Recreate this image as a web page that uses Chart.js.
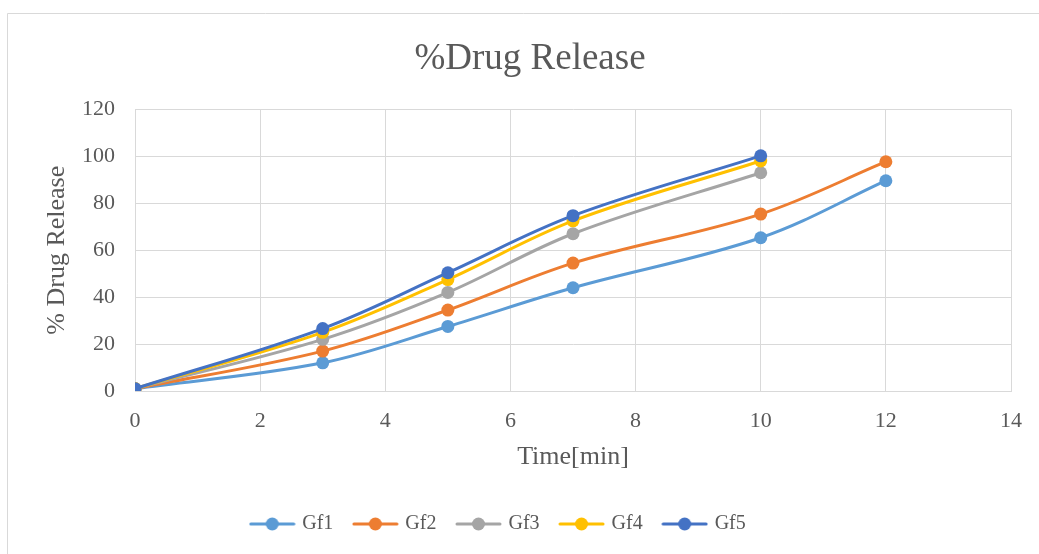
<!DOCTYPE html>
<html>
<head>
<meta charset="utf-8">
<script src="https://cdn.jsdelivr.net/npm/chart.js@4"></script>
<style>
    html, body {margin: 0; padding: 0; background: #fff;}
    #wrap {width: 1039px; height: 554px; position: relative;}
</style>
</head>
<body>
<div id="wrap"><canvas id="releaseChart"></canvas></div>
<script>
const timesLong = [0, 3, 5, 7, 10, 12],
      timesShort = [0, 3, 5, 7, 10],
      gf1 = [1, 12, 27.5, 44, 65.3, 89.6],
      gf2 = [1, 17, 34.5, 54.5, 75.4, 97.7],
      gf3 = [1, 22, 42, 67, 93],
      gf4 = [1, 25, 47.5, 72.5, 98],
      gf5 = [1, 26.6, 50.4, 74.7, 100.2],
      seriesNames = ['Gf1', 'Gf2', 'Gf3', 'Gf4', 'Gf5'],
      seriesColors = ['#5b9bd5', '#ed7d31', '#a5a5a5', '#ffc000', '#4472c4'];

const textColor = '#595959',
      gridColor = '#d9d9d9',
      serif = "'Liberation Serif', 'Times New Roman', serif";

function toPoints(xs, ys) {
    return xs.map((x, i) => ({x: x, y: ys[i]}));
}

// little line + dot used as legend marker
function legendMarker(color) {
    const c = document.createElement('canvas');
    c.width = 47; c.height = 14;
    const g = c.getContext('2d');
    g.strokeStyle = color;
    g.lineWidth = 3;
    g.lineCap = 'round';
    g.beginPath(); g.moveTo(2, 7); g.lineTo(45, 7); g.stroke();
    g.fillStyle = color;
    g.beginPath(); g.arc(23.5, 7, 6.5, 0, Math.PI * 2); g.fill();
    return c;
}

const seriesData = [
    toPoints(timesLong, gf1),
    toPoints(timesLong, gf2),
    toPoints(timesShort, gf3),
    toPoints(timesShort, gf4),
    toPoints(timesShort, gf5)
];

const datasets = seriesNames.map((name, i) => ({
    label: name,
    data: seriesData[i],
    borderColor: seriesColors[i],
    backgroundColor: seriesColors[i],
    borderWidth: 3,
    pointRadius: 6.5,
    pointHoverRadius: 6.5,
    pointBorderWidth: 0,
    tension: 0.35,
    fill: false,
    order: seriesNames.length - i
}));

const frame = {
    id: 'frame',
    beforeDraw(chart) {
        const c = chart.ctx;
        c.save();
        c.fillStyle = '#fff';
        c.fillRect(0, 0, chart.width, chart.height);
        c.strokeStyle = gridColor;
        c.lineWidth = 1;
        c.beginPath();
        c.moveTo(7.5, chart.height);
        c.lineTo(7.5, 13.5);
        c.lineTo(chart.width, 13.5);
        c.stroke();
        c.restore();
    },
    afterLayout(chart) {
        // legend a bit left, title a bit right
        chart.legend.left -= 7;
        chart.legend.right -= 7;
        chart.titleBlock.left += 24;
        chart.titleBlock.right += 24;
    }
};

new Chart(document.getElementById('releaseChart'), {
    type: 'line',
    data: {datasets: datasets},
    plugins: [frame],
    options: {
        responsive: true,
        maintainAspectRatio: false,
        animation: false,
        layout: {padding: {left: 0, right: 27, top: 0, bottom: 10}},
        plugins: {
            title: {
                display: true,
                text: '%Drug Release',
                color: textColor,
                font: {family: serif, size: 37, weight: 'normal'},
                padding: {top: 37, bottom: 28}
            },
            legend: {
                position: 'bottom',
                labels: {
                    color: textColor,
                    font: {family: serif, size: 20},
                    usePointStyle: true,
                    pointStyleWidth: 40,
                    padding: 22,
                    generateLabels: function(chart) {
                        return chart.data.datasets.map((ds, i) => ({
                            text: ds.label,
                            fillStyle: ds.borderColor,
                            strokeStyle: ds.borderColor,
                            fontColor: textColor,
                            lineWidth: 0,
                            pointStyle: legendMarker(ds.borderColor),
                            hidden: !chart.isDatasetVisible(i),
                            datasetIndex: i
                        }));
                    }
                }
            },
            tooltip: {enabled: false}
        },
        scales: {
            x: {
                type: 'linear',
                min: 0,
                max: 14,
                afterFit: function(scale) { scale.height = 101; },
                ticks: {
                    stepSize: 2,
                    color: textColor,
                    font: {family: serif, size: 22},
                    padding: 17
                },
                grid: {color: gridColor, drawTicks: false},
                border: {color: gridColor},
                title: {
                    display: true,
                    text: 'Time[min]',
                    color: textColor,
                    font: {family: serif, size: 26},
                    padding: {top: 0, bottom: 19}
                }
            },
            y: {
                min: 0,
                max: 120,
                afterFit: function(scale) { scale.width = 135; },
                ticks: {
                    stepSize: 20,
                    color: textColor,
                    font: {family: serif, size: 22},
                    padding: 20
                },
                grid: {color: gridColor, drawTicks: false},
                border: {color: gridColor},
                title: {
                    display: true,
                    text: '% Drug Release',
                    color: textColor,
                    font: {family: serif, size: 26},
                    padding: {top: 42, bottom: 0}
                }
            }
        }
    }
});
</script>
</body>
</html>
